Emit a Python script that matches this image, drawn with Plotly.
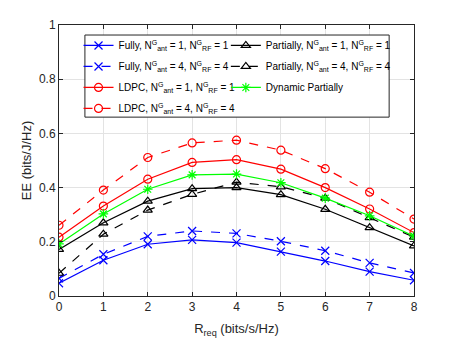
import plotly.graph_objects as go

r_req = [0, 1, 2, 3, 4, 5, 6, 7, 8]

fully_1 = [0.047, 0.132, 0.191, 0.207, 0.197, 0.164, 0.129, 0.090, 0.058]
fully_4 = [0.065, 0.154, 0.220, 0.240, 0.231, 0.202, 0.167, 0.122, 0.085]
ldpc_1 = [0.217, 0.332, 0.431, 0.493, 0.503, 0.468, 0.400, 0.321, 0.234]
ldpc_4 = [0.261, 0.391, 0.511, 0.565, 0.575, 0.538, 0.470, 0.383, 0.284]
partial_1 = [0.172, 0.270, 0.350, 0.396, 0.400, 0.374, 0.320, 0.252, 0.185]
partial_4 = [0.084, 0.228, 0.317, 0.375, 0.420, 0.403, 0.361, 0.289, 0.217]
dynamic = [0.192, 0.303, 0.394, 0.447, 0.450, 0.418, 0.361, 0.296, 0.221]

NAME = "{}, N<sup>G</sup><sub>ant</sub> = {}, N<sup>G</sup><sub>RF</sub> = {}"

series = [
    (NAME.format("Fully", 1, 1), fully_1, "#0000ff", "solid", "x-thin-open", "legend"),
    (NAME.format("Fully", 4, 4), fully_4, "#0000ff", "dash", "x-thin-open", "legend"),
    (NAME.format("LDPC", 1, 1), ldpc_1, "#ff0000", "solid", "circle-open", "legend"),
    (NAME.format("LDPC", 4, 4), ldpc_4, "#ff0000", "dash", "circle-open", "legend"),
    (NAME.format("Partially", 1, 1), partial_1, "#000000", "solid", "triangle-up-open", "legend2"),
    (NAME.format("Partially", 4, 4), partial_4, "#000000", "dash", "triangle-up-open", "legend2"),
    ("Dynamic Partially", dynamic, "#00ff00", "solid", "asterisk-open", "legend2"),
]

fig = go.Figure()
for i, (name, vals, color, dash, symbol, leg) in enumerate(series):
    fig.add_trace(go.Scatter(
        x=r_req, y=vals, name=name, mode="lines+markers", legend=leg, legendgroup=f"g{i}",
        line=dict(color=color, width=1.2, dash=dash),
        marker=dict(symbol=symbol, size=8, color=color, line=dict(color=color, width=1.2)),
    ))

axis_common = dict(
    showgrid=True, gridcolor="#e3e3e3", gridwidth=1,
    showline=True, linecolor="#262626", linewidth=1, mirror="ticks",
    ticks="inside", ticklen=4, tickcolor="#262626", automargin=False,
    tickfont=dict(size=12, color="#262626"), zeroline=False,
)

leg_common = dict(
    bgcolor="rgba(0,0,0,0)", borderwidth=0, font=dict(size=10, color="#000000"),
    yanchor="top", xanchor="left", tracegroupgap=2,
)

# page body has an 8px margin, so the figure is sized to fit the 457x343 window
fig.update_layout(
    width=449, height=335,
    margin=dict(l=51, r=43, t=17, b=47),
    paper_bgcolor="white", plot_bgcolor="white",
    font=dict(family="Liberation Sans, Arial, sans-serif", color="#262626"),
    xaxis=dict(range=[0, 8], dtick=1, title=dict(text="R<sub>req</sub> (bits/s/Hz)", font=dict(size=13), standoff=10), **axis_common),
    yaxis=dict(range=[0, 1], dtick=0.2, tickformat="~g", title=dict(text="EE (bits/J/Hz)", font=dict(size=13), standoff=4), **axis_common),
    legend=dict(x=0.055, y=0.978, **leg_common),
    legend2=dict(x=0.47, y=0.978, **leg_common),
    shapes=[dict(type="rect", xref="paper", yref="paper", x0=0.073, x1=0.93, y0=0.66, y1=0.963,
                 fillcolor="white", line=dict(color="#262626", width=1), layer="above")],
)

fig.write_html("out.html")
